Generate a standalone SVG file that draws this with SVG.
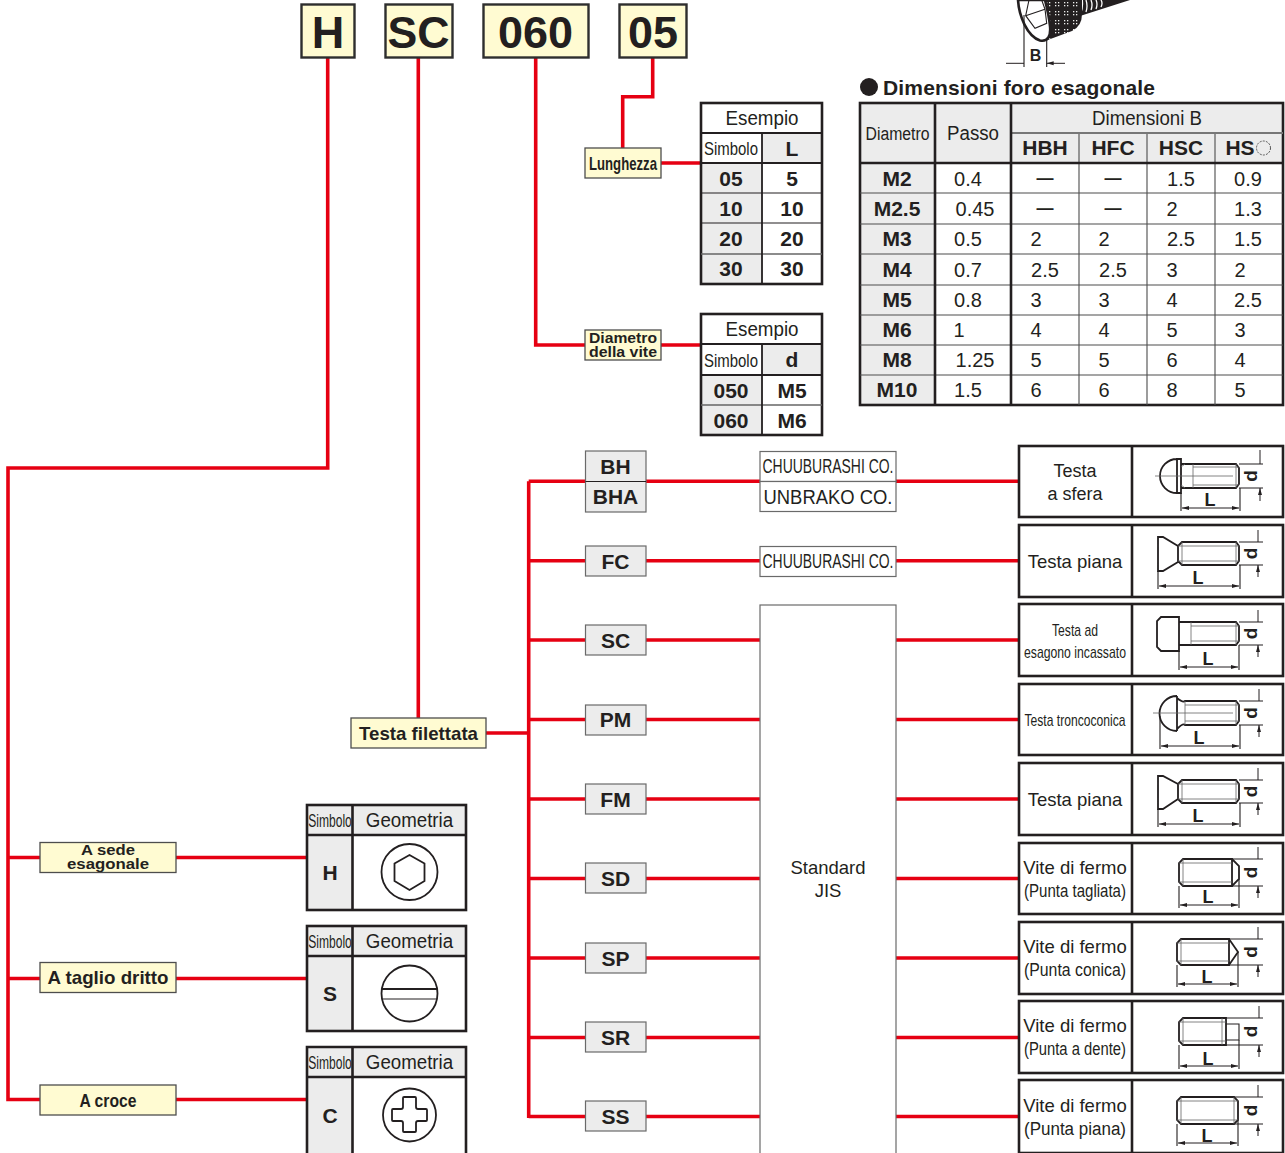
<svg xmlns="http://www.w3.org/2000/svg" width="1285" height="1153" viewBox="0 0 1285 1153">
<style>
text{font-family:"Liberation Sans",Arial,sans-serif;fill:#231f20;text-anchor:middle}
.r{font-size:20px}.b{font-size:21px;font-weight:bold}.big{font-size:45px;font-weight:bold}
.s{font-size:18px}.lbl{font-size:19px;font-weight:bold}.sm{font-size:14px;font-weight:bold}
.dl{font-size:19px;font-weight:bold}.ll{font-size:18px;font-weight:bold}
.dash{font-size:17px;font-weight:bold}
.f{fill:#fff}.g{fill:#ececec}.c{fill:#fffbd2;stroke:#4d4d4d;stroke-width:1.3}
.top{fill:#fffbd2;stroke:#2e2e2e;stroke-width:2.4}
.o{fill:none;stroke:#231f20;stroke-width:2.6}.l{fill:none;stroke:#231f20;stroke-width:1.1}
.m{fill:none;stroke:#231f20;stroke-width:1.8}.th{fill:none;stroke:#666;stroke-width:.8}
.d{fill:none;stroke:#231f20;stroke-width:1;marker-start:url(#as);marker-end:url(#ae)}
.a{fill:none;stroke:#231f20;stroke-width:1;marker-end:url(#ae)}
.w{fill:#fff;stroke:#6a6a6a;stroke-width:1.2}
.sy{fill:#ececec;stroke:#6a6a6a;stroke-width:1.2}
.red{fill:none;stroke:#e60012;stroke-width:3.6}
</style>
<defs>
<marker id="ae" markerWidth="8" markerHeight="6" refX="7" refY="3" orient="auto" markerUnits="userSpaceOnUse"><path d="M0 1L7 3L0 5Z" fill="#231f20"/></marker>
<marker id="as" markerWidth="8" markerHeight="6" refX="1" refY="3" orient="auto" markerUnits="userSpaceOnUse"><path d="M8 1L1 3L8 5Z" fill="#231f20"/></marker>
<pattern id="dots" x="1" y="1" width="9" height="9" patternUnits="userSpaceOnUse"><rect width="9" height="9" fill="#231f20"/><rect x="1" y="1" width="1.300" height="1.300" fill="#eee"/><rect x="4" y="1" width="1.300" height="1.300" fill="#eee"/><rect x="1" y="4" width="1.300" height="1.300" fill="#eee"/><rect x="4" y="4" width="1.300" height="1.300" fill="#eee"/></pattern>
</defs>

<g id="connectors">
<path class="red" d="M327.700 58V468H8V1099.500H40M8 857.500H40M8 978.500H40M176 857.500H307M176 978.500H307M176 1099.500H307"/>
<path class="red" d="M418.300 58V718"/>
<path class="red" d="M535.700 58V345H585M661 345H701"/>
<path class="red" d="M652.700 58V96.700H622.700V148M661 163H701"/>
<path class="red" d="M486 733H528.700M528.700 481.300V1118"/>
<path class="red" d="M528.700 481.300H585M645 481.300H760M896 481.300H1018M528.700 560.700H585M645 560.700H760M896 560.700H1018M528.700 640H585M645 640H760M896 640H1018M528.700 719.500H585M645 719.500H760M896 719.500H1018M528.700 799H585M645 799H760M896 799H1018M528.700 878.500H585M645 878.500H760M896 878.500H1018M528.700 958H585M645 958H760M896 958H1018M528.700 1037.500H585M645 1037.500H760M896 1037.500H1018M528.700 1116.500H585M645 1116.500H760M896 1116.500H1018"/>
</g>

<g id="code-h"><rect x="301.500" y="4.500" width="53" height="53" class="top"/><text x="328" y="48" class="big">H</text></g>
<g id="code-sc"><rect x="385.500" y="4.500" width="67" height="53" class="top"/><text x="418.500" y="48" class="big" textLength="62" lengthAdjust="spacingAndGlyphs">SC</text></g>
<g id="code-060"><rect x="483.500" y="4.500" width="105" height="53" class="top"/><text x="535.500" y="48" class="big" textLength="75" lengthAdjust="spacingAndGlyphs">060</text></g>
<g id="code-05"><rect x="619.500" y="4.500" width="67" height="53" class="top"/><text x="653" y="48" class="big" textLength="50" lengthAdjust="spacingAndGlyphs">05</text></g>

<g id="lunghezza"><rect x="585" y="148" width="76" height="30" class="c"/><text x="623" y="170" class="lbl" textLength="68" lengthAdjust="spacingAndGlyphs">Lunghezza</text></g>
<g id="diametro"><rect x="585" y="330" width="76" height="30" class="c"/><text x="623" y="343" class="sm" textLength="68" lengthAdjust="spacingAndGlyphs">Diametro</text><text x="623" y="357" class="sm" textLength="68" lengthAdjust="spacingAndGlyphs">della vite</text></g>

<g id="esempio-l">
<rect x="701" y="163" width="61" height="121" class="g"/><rect x="701" y="133" width="61" height="30" class="f"/><rect x="762" y="133" width="60" height="30" class="g"/>
<rect x="701" y="103" width="121" height="181" class="o"/>
<path class="l" d="M701 193H822M701 223H822" /><path class="l" d="M701 254H822" style="stroke:#666;stroke-width:1.500"/><path class="m" d="M701 133H822M701 163H822M762 133V284"/>
<text x="762" y="125" class="r" textLength="73" lengthAdjust="spacingAndGlyphs">Esempio</text><text x="731" y="155" class="s" textLength="54" lengthAdjust="spacingAndGlyphs">Simbolo</text><text x="792" y="156" class="b">L</text>
<text x="731" y="186" class="b">05</text><text x="792" y="186" class="b">5</text><text x="731" y="216" class="b">10</text><text x="792" y="216" class="b">10</text><text x="731" y="246" class="b">20</text><text x="792" y="246" class="b">20</text><text x="731" y="276" class="b">30</text><text x="792" y="276" class="b">30</text>
</g>
<g id="esempio-d">
<rect x="701" y="375" width="61" height="60" class="g"/><rect x="762" y="344" width="60" height="31" class="g"/>
<rect x="701" y="314" width="121" height="121" class="o"/>
<path class="l" d="M701 405H822" style="stroke:#666;stroke-width:1.500"/><path class="m" d="M701 344H822M701 375H822M762 344V435"/>
<text x="762" y="336" class="r" textLength="73" lengthAdjust="spacingAndGlyphs">Esempio</text><text x="731" y="367" class="s" textLength="54" lengthAdjust="spacingAndGlyphs">Simbolo</text><text x="792" y="367" class="b">d</text>
<text x="731" y="398" class="b">050</text><text x="792" y="398" class="b">M5</text><text x="731" y="428" class="b">060</text><text x="792" y="428" class="b">M6</text>
</g>

<g id="hex-screw">
<path d="M1045 41L1072 31Q1082 26 1082 14V0H1040Z" fill="url(#dots)"/>
<path d="M1080 16L1130 0H1083Q1084 9 1080 16Z" fill="#231f20"/>
<path class="l" d="M1086 0Q1088 6 1086 12M1091 0Q1093 5 1091 10M1096 0Q1098 4 1096 9M1101 0Q1103 3 1101 7" style="stroke:#fff;stroke-width:1.300"/>
<path d="M1018 0C1019 16 1027 36 1040 40.500C1048 42 1051 36 1050 26C1049 16 1047 8 1045 0Z" fill="#fff" stroke="#231f20" stroke-width="2.600"/>
<path class="l" d="M1025.700 15.700L1045 9.300L1046.700 23.300L1035 28.300ZM1029 0L1025.700 15.700M1041.700 0L1045 9.300"/>
<path class="l" d="M1024 15V67M1046.700 38V67"/>
<path class="a" d="M1006 63.300H1024M1065 63.300H1046.700"/>
<text x="1035.500" y="61" font-size="16" font-weight="bold">B</text>
</g>

<g id="hex-table">
<circle cx="869" cy="87" r="9" fill="#231f20"/>
<text x="883" y="95" font-size="21" font-weight="bold" style="text-anchor:start" textLength="272">Dimensioni foro esagonale</text>
<rect x="860" y="103" width="423" height="60" class="g"/><rect x="860" y="163" width="75" height="242" class="g"/>
<rect x="935" y="163" width="348" height="242" class="f"/>
<rect x="860" y="103" width="423" height="302" class="o"/>
<path class="l" d="M860 193H1283M860 224H1283M860 254H1283M860 285H1283M860 315H1283M860 345H1283M860 375H1283M1079 133V405M1147 133V405M1215 133V405" style="stroke:#4d4d4d"/>
<path class="m" d="M1011 133H1283" style="stroke:#777"/><path class="o" d="M860 163H1283M935 103V405M1011 103V405"/>
<text x="897.500" y="140" class="s" textLength="64" lengthAdjust="spacingAndGlyphs">Diametro</text><text x="973" y="140" class="r" textLength="52" lengthAdjust="spacingAndGlyphs">Passo</text><text x="1147" y="125" class="r" textLength="110" lengthAdjust="spacingAndGlyphs">Dimensioni B</text>
<text x="1045" y="155" class="b">HBH</text><text x="1113" y="155" class="b">HFC</text><text x="1181" y="155" class="b">HSC</text><text x="1240" y="155" class="b">HS</text>
<circle cx="1263.500" cy="148" r="7" fill="none" stroke="#555" stroke-width="1" stroke-dasharray="2 1.200"/>
<text x="897" y="186" class="b">M2</text><text x="897" y="216" class="b">M2.5</text><text x="897" y="246" class="b">M3</text><text x="897" y="277" class="b">M4</text><text x="897" y="307" class="b">M5</text><text x="897" y="337" class="b">M6</text><text x="897" y="367" class="b">M8</text><text x="897" y="397" class="b">M10</text>
<text x="968" y="186" class="r">0.4</text><text x="975" y="216" class="r">0.45</text><text x="968" y="246" class="r">0.5</text><text x="968" y="277" class="r">0.7</text><text x="968" y="307" class="r">0.8</text><text x="959" y="337" class="r">1</text><text x="975" y="367" class="r">1.25</text><text x="968" y="397" class="r">1.5</text>
<text x="1045" y="184" class="dash">—</text><text x="1113" y="184" class="dash">—</text><text x="1181" y="186" class="r">1.5</text><text x="1248" y="186" class="r">0.9</text>
<text x="1045" y="214" class="dash">—</text><text x="1113" y="214" class="dash">—</text><text x="1172" y="216" class="r">2</text><text x="1248" y="216" class="r">1.3</text>
<text x="1036" y="246" class="r">2</text><text x="1104" y="246" class="r">2</text><text x="1181" y="246" class="r">2.5</text><text x="1248" y="246" class="r">1.5</text>
<text x="1045" y="277" class="r">2.5</text><text x="1113" y="277" class="r">2.5</text><text x="1172" y="277" class="r">3</text><text x="1240" y="277" class="r">2</text>
<text x="1036" y="307" class="r">3</text><text x="1104" y="307" class="r">3</text><text x="1172" y="307" class="r">4</text><text x="1248" y="307" class="r">2.5</text>
<text x="1036" y="337" class="r">4</text><text x="1104" y="337" class="r">4</text><text x="1172" y="337" class="r">5</text><text x="1240" y="337" class="r">3</text>
<text x="1036" y="367" class="r">5</text><text x="1104" y="367" class="r">5</text><text x="1172" y="367" class="r">6</text><text x="1240" y="367" class="r">4</text>
<text x="1036" y="397" class="r">6</text><text x="1104" y="397" class="r">6</text><text x="1172" y="397" class="r">8</text><text x="1240" y="397" class="r">5</text>
</g>

<g id="testa-filettata"><rect x="351" y="718" width="135" height="30" class="c"/><text x="418.500" y="740" font-size="19" font-weight="bold" textLength="119" lengthAdjust="spacingAndGlyphs">Testa filettata</text></g>
<g id="a-sede"><rect x="40" y="842.500" width="136" height="30" class="c"/><text x="108" y="855" class="sm" textLength="54" lengthAdjust="spacingAndGlyphs">A sede</text><text x="108" y="868.500" class="sm" textLength="82" lengthAdjust="spacingAndGlyphs">esagonale</text></g>
<g id="a-taglio"><rect x="40" y="962.500" width="136" height="30" class="c"/><text x="108" y="984" font-size="19" font-weight="bold" textLength="121" lengthAdjust="spacingAndGlyphs">A taglio dritto</text></g>
<g id="a-croce"><rect x="40" y="1085" width="136" height="30" class="c"/><text x="108" y="1107" class="lbl" textLength="57" lengthAdjust="spacingAndGlyphs">A croce</text></g>

<g id="geom-h"><rect x="307" y="805" width="159" height="105" class="f"/><rect x="307" y="805" width="159" height="30" class="g"/><rect x="307" y="835" width="45" height="75" class="g"/><rect x="307" y="805" width="159" height="105" class="o"/><path class="o" d="M307 835H466M352.500 805V910"/><text transform="translate(330 827) scale(.67 1)" class="s">Simbolo</text><text transform="translate(409.500 827) scale(.935 1)" class="r">Geometria</text><text x="330" y="880" class="b">H</text>
<circle cx="409.500" cy="872" r="28" class="m"/><path class="m" d="M409.500 855L424.500 863.500V881L409.500 890L394.500 881V863.500Z"/></g>
<g id="geom-s"><rect x="307" y="926" width="159" height="105" class="f"/><rect x="307" y="926" width="159" height="30" class="g"/><rect x="307" y="956" width="45" height="75" class="g"/><rect x="307" y="926" width="159" height="105" class="o"/><path class="o" d="M307 956H466M352.500 926V1031"/><text transform="translate(330 948) scale(.67 1)" class="s">Simbolo</text><text transform="translate(409.500 948) scale(.935 1)" class="r">Geometria</text><text x="330" y="1001" class="b">S</text>
<circle cx="409.500" cy="993.500" r="28" class="m"/><path class="m" d="M382 989H437" style="stroke-width:2.200"/><path class="l" d="M382 999H437"/></g>
<g id="geom-c"><rect x="307" y="1047" width="159" height="106" class="f"/><rect x="307" y="1047" width="159" height="30" class="g"/><rect x="307" y="1077" width="45" height="76" class="g"/><path class="o" d="M307 1153V1047H466V1153M307 1077H466M352.500 1047V1153"/><text transform="translate(330 1069) scale(.67 1)" class="s">Simbolo</text><text transform="translate(409.500 1069) scale(.935 1)" class="r">Geometria</text><text x="330" y="1123" class="b">C</text>
<circle cx="409.500" cy="1115" r="26.500" class="m"/><path class="m" d="M404 1097H415Q416 1097 416 1098V1107Q416 1109 418 1109H426Q427 1109 427 1110V1120Q427 1121 426 1121H418Q416 1121 416 1123V1131Q416 1132 415 1132H404Q403 1132 403 1131V1123Q403 1121 401 1121H393Q392 1121 392 1120V1110Q392 1109 393 1109H401Q403 1109 403 1107V1098Q403 1097 404 1097Z"/></g>

<g id="sym-bh"><rect x="585.500" y="451" width="60.500" height="61" class="sy"/><path class="l" d="M585.500 481.500H646"/><text x="615.500" y="474" class="b">BH</text><text x="615.500" y="504" class="b">BHA</text></g>
<g id="sym-fc"><rect x="585.500" y="546" width="60.500" height="30" class="sy"/><text x="615.500" y="569" class="b">FC</text></g>
<g id="sym-sc"><rect x="585.500" y="625" width="60.500" height="30" class="sy"/><text x="615.500" y="648" class="b">SC</text></g>
<g id="sym-pm"><rect x="585.500" y="705" width="60.500" height="30" class="sy"/><text x="615.500" y="727" class="b">PM</text></g>
<g id="sym-fm"><rect x="585.500" y="784" width="60.500" height="30" class="sy"/><text x="615.500" y="807" class="b">FM</text></g>
<g id="sym-sd"><rect x="585.500" y="863" width="60.500" height="30" class="sy"/><text x="615.500" y="886" class="b">SD</text></g>
<g id="sym-sp"><rect x="585.500" y="943" width="60.500" height="30" class="sy"/><text x="615.500" y="966" class="b">SP</text></g>
<g id="sym-sr"><rect x="585.500" y="1022" width="60.500" height="30" class="sy"/><text x="615.500" y="1045" class="b">SR</text></g>
<g id="sym-ss"><rect x="585.500" y="1101" width="60.500" height="30" class="sy"/><text x="615.500" y="1124" class="b">SS</text></g>

<g id="maker-bh"><rect x="760" y="451.500" width="136" height="30" class="w"/><rect x="760" y="481.500" width="136" height="30" class="w"/><text x="828" y="473" class="r" textLength="131" lengthAdjust="spacingAndGlyphs">CHUUBURASHI CO.</text><text x="828" y="504" class="r" textLength="129" lengthAdjust="spacingAndGlyphs">UNBRAKO CO.</text></g>
<g id="maker-fc"><rect x="760" y="546.500" width="136" height="30" class="w"/><text x="828" y="568" class="r" textLength="131" lengthAdjust="spacingAndGlyphs">CHUUBURASHI CO.</text></g>
<g id="standard-jis"><rect x="760" y="605" width="136" height="550" class="w"/><text x="828" y="874" font-size="18.500">Standard</text><text x="828" y="897" font-size="18.500">JIS</text></g>

<g id="row-bh"><rect x="1019" y="446" width="264" height="71" class="o"/><path class="o" d="M1132 446V517"/><text x="1075" y="477" font-size="18">Testa</text><text x="1075" y="500" font-size="18">a sfera</text>
<path class="m" d="M1177 459V493H1181V459ZM1177 459A17 17 0 0 0 1177 493M1181 464H1236L1239 468V484L1236 488H1181"/><path class="th" d="M1155 476H1233M1193 467H1239M1193 485H1239M1193 464V488M1181 467L1185 464M1185 488L1181 485M1236 464V488"/>
<path class="l" d="M1181 493V511M1240 488V511M1239 464H1263M1239 488H1263"/><path class="d" d="M1182 508H1239"/><path class="a" d="M1260 450V464M1260 501V488"/>
<text x="1210" y="506" class="ll">L</text><text transform="translate(1257 476) rotate(-90)" class="dl">d</text></g>

<g id="row-fc"><rect x="1019" y="525" width="264" height="72" class="o"/><path class="o" d="M1132 525V597"/><text x="1075" y="568" font-size="18.500">Testa piana</text>
<path class="m" d="M1158 537V571H1163L1178 562V546L1163 537ZM1178 546L1182 542H1236L1239 546V561L1236 565H1182L1178 561"/><path class="th" d="M1178 546H1239M1178 561H1239M1182 542V565M1236 542V565"/>
<path class="l" d="M1158 571V589M1240 565V589M1239 542H1263M1239 565H1263"/><path class="d" d="M1159 586H1239"/><path class="a" d="M1258 530V542M1258 577V565"/>
<text x="1198" y="584" class="ll">L</text><text transform="translate(1257 553.500) rotate(-90)" class="dl">d</text></g>

<g id="row-sc"><rect x="1019" y="604" width="264" height="72" class="o"/><path class="o" d="M1132 604V676"/><text x="1075" y="636" font-size="17" textLength="46" lengthAdjust="spacingAndGlyphs">Testa ad</text><text x="1075" y="658" font-size="17" textLength="102" lengthAdjust="spacingAndGlyphs">esagono incassato</text>
<path class="m" d="M1161 617H1179V651H1161L1157 647V621ZM1179 622H1236L1239 626V641L1236 645H1179"/><path class="th" d="M1191 626H1239M1191 641H1239M1191 622V645M1236 622V645"/>
<path class="l" d="M1179 651V670M1239 645V670M1239 622H1263M1239 645H1263"/><path class="d" d="M1180 667H1238"/><path class="a" d="M1258 610V622M1258 657V645"/>
<text x="1208" y="665" class="ll">L</text><text transform="translate(1257 633.500) rotate(-90)" class="dl">d</text></g>

<g id="row-pm"><rect x="1019" y="684" width="264" height="71" class="o"/><path class="o" d="M1132 684V755"/><text x="1075" y="726" font-size="17" textLength="101" lengthAdjust="spacingAndGlyphs">Testa troncoconica</text>
<path class="m" d="M1177 696V731M1177 696A17.500 17.500 0 0 0 1177 731M1177 698Q1183 703 1185 701H1236L1239 705V721L1236 725H1185Q1183 723 1177 729"/><path class="th" d="M1153 713H1233M1185 705H1239M1185 721H1239M1185 701V725M1236 701V725"/>
<path class="l" d="M1160 716V749M1240 725V749M1239 701H1263M1239 725H1263"/><path class="d" d="M1161 746H1239"/><path class="a" d="M1259 689V701M1259 737V725"/>
<text x="1199" y="744" class="ll">L</text><text transform="translate(1257 713) rotate(-90)" class="dl">d</text></g>

<g id="row-fm"><rect x="1019" y="763" width="264" height="72" class="o"/><path class="o" d="M1132 763V835"/><text x="1075" y="806" font-size="18.500">Testa piana</text>
<path class="m" d="M1158 776V809H1163L1178 799V784L1163 776ZM1178 784L1182 780H1236L1239 784V799L1236 803H1182L1178 799"/><path class="th" d="M1178 784H1239M1178 799H1239M1182 780V803M1236 780V803"/>
<path class="l" d="M1158 809V827M1240 803V827M1239 780H1263M1239 803H1263"/><path class="d" d="M1159 824H1239"/><path class="a" d="M1258 768V780M1258 815V803"/>
<text x="1198" y="822" class="ll">L</text><text transform="translate(1257 791.500) rotate(-90)" class="dl">d</text></g>

<g id="row-sd"><rect x="1019" y="843" width="264" height="71" class="o"/><path class="o" d="M1132 843V914"/><text x="1075" y="874" font-size="18.500">Vite di fermo</text><text x="1075" y="897" font-size="17.500" textLength="102" lengthAdjust="spacingAndGlyphs">(Punta tagliata)</text>
<path class="m" d="M1183 859H1232V886H1183L1179 882V863ZM1232 859L1239 866V879L1232 886"/><path class="th" d="M1179 863H1232M1179 882H1232M1183 859V886"/>
<path class="l" d="M1179 886V908M1239 879V908M1232 859H1263M1232 886H1263"/><path class="d" d="M1180 905H1238"/><path class="a" d="M1258 847V859M1258 898V886"/>
<text x="1208" y="903" class="ll">L</text><text transform="translate(1257 872.500) rotate(-90)" class="dl">d</text></g>

<g id="row-sp"><rect x="1019" y="922" width="264" height="72" class="o"/><path class="o" d="M1132 922V994"/><text x="1075" y="953" font-size="18.500">Vite di fermo</text><text x="1075" y="976" font-size="17.500" textLength="102" lengthAdjust="spacingAndGlyphs">(Punta conica)</text>
<path class="m" d="M1181 939H1229V965H1181L1177 961V943ZM1229 939L1238 952L1229 965"/><path class="th" d="M1177 943H1229M1177 961H1229M1181 939V965"/>
<path class="l" d="M1177 965V987M1238 952V987M1229 939H1263M1229 965H1263"/><path class="d" d="M1178 984H1237"/><path class="a" d="M1258 927V939M1258 977V965"/>
<text x="1207" y="983" class="ll">L</text><text transform="translate(1257 952) rotate(-90)" class="dl">d</text></g>

<g id="row-sr"><rect x="1019" y="1001" width="264" height="72" class="o"/><path class="o" d="M1132 1001V1073"/><text x="1075" y="1032" font-size="18.500">Vite di fermo</text><text x="1075" y="1055" font-size="17.500" textLength="102" lengthAdjust="spacingAndGlyphs">(Punta a dente)</text>
<path class="m" d="M1183 1018H1226V1045H1183L1179 1041V1022Z"/><path class="l" d="M1226 1024H1239V1040H1226"/><path class="th" d="M1179 1022H1226M1179 1041H1226M1183 1018V1045M1222 1018V1045"/>
<path class="l" d="M1179 1045V1069M1239 1040V1069M1226 1018H1263M1226 1045H1263"/><path class="d" d="M1180 1066H1238"/><path class="a" d="M1259 1006V1018M1259 1057V1045"/>
<text x="1208" y="1065" class="ll">L</text><text transform="translate(1257 1031.500) rotate(-90)" class="dl">d</text></g>

<g id="row-ss"><rect x="1019" y="1080" width="264" height="73" class="o"/><path class="o" d="M1132 1080V1153"/><text x="1075" y="1112" font-size="18.500">Vite di fermo</text><text x="1075" y="1135" font-size="18" textLength="102" lengthAdjust="spacingAndGlyphs">(Punta piana)</text>
<path class="m" d="M1181 1097H1234L1238 1101V1120L1234 1124H1181L1177 1120V1101Z"/><path class="th" d="M1177 1101H1238M1177 1120H1238M1181 1097V1124M1234 1097V1124"/>
<path class="l" d="M1177 1124V1146M1238 1120V1146M1234 1097H1263M1234 1124H1263"/><path class="d" d="M1178 1143H1237"/><path class="a" d="M1258 1085V1097M1258 1136V1124"/>
<text x="1207" y="1142" class="ll">L</text><text transform="translate(1257 1110.500) rotate(-90)" class="dl">d</text></g>
</svg>
